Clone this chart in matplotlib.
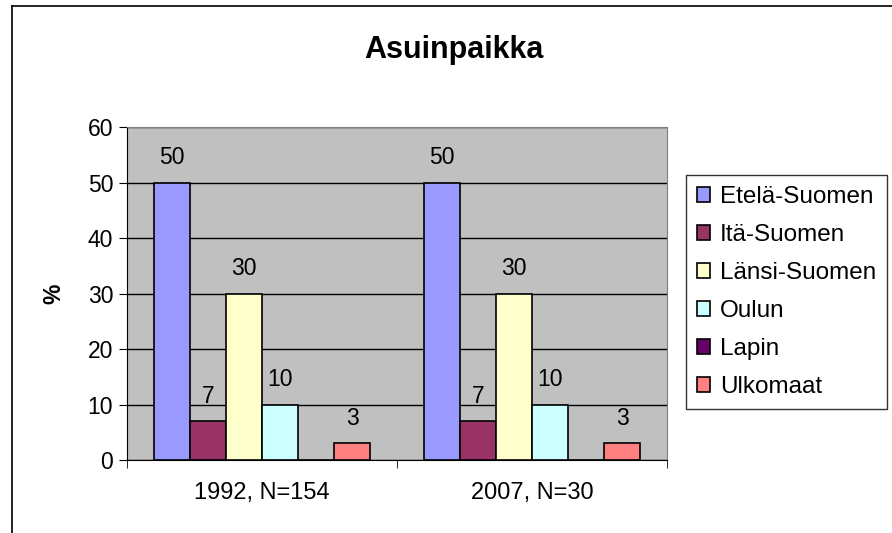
import numpy as np
import matplotlib
matplotlib.use("Agg")
from matplotlib import pyplot as plt
from matplotlib.lines import Line2D

plt.rcParams['font.family'] = ['Liberation Sans', 'DejaVu Sans']

groups = ["1992, N=154", "2007, N=30"]
regions = ["Etelä-Suomen", "Itä-Suomen", "Länsi-Suomen", "Oulun", "Lapin", "Ulkomaat"]
values_1992 = [50, 7, 30, 10, 0, 3]
values_2007 = [50, 7, 30, 10, 0, 3]
colors = ["#9999FF", "#993366", "#FFFFCC", "#CCFFFF", "#660066", "#FF8080"]

fig = plt.figure(figsize=(8.92, 5.33), dpi=100)
ax = fig.add_axes([127/892, 1-460/533, 540/892, 333/533])
ax.set_facecolor("#C0C0C0")

x = np.arange(len(groups))
w = 1/7.5
data = np.array([values_1992, values_2007])
for i, reg in enumerate(regions):
    vals = data[:, i]
    bars = ax.bar(x + (i-2.5)*w, vals, w, color=colors[i], edgecolor="black",
                  linewidth=1.2, label=reg, zorder=3)
    for b, v in zip(bars, vals):
        if v > 0:
            ax.text(b.get_x() + b.get_width()/2, v + 2.4, str(v), ha="center",
                    va="bottom", fontsize=16.5, zorder=4)

ax.set_xlim(-0.5, 1.5)
ax.set_ylim(0, 60)
ax.set_yticks(range(0, 61, 10))
ax.yaxis.grid(True, color="black", linewidth=1)
ax.set_axisbelow(True)
ax.tick_params(axis="y", direction="out", length=6, labelsize=16.5, pad=4)
ax.set_xticks(x)
ax.set_xticklabels(groups)
ax.set_xticks([-0.5, 0.5, 1.5], minor=True)
ax.tick_params(axis="x", which="major", length=0, labelsize=17, pad=16)
ax.tick_params(axis="x", which="minor", length=6, direction="out")
ax.set_ylabel("%", fontsize=16.5, fontweight="bold", labelpad=16)
for s in ["top", "right"]:
    ax.spines[s].set_color("#808080")
for s in ["left", "bottom"]:
    ax.spines[s].set_color("black")

fig.text(454/892, 1-50/533, "Asuinpaikka", ha="center", va="center",
         fontsize=22, fontweight="bold")

leg = fig.legend(loc="center left", bbox_to_anchor=(686/892, 1-292/533),
                 fontsize=17.5, frameon=True, fancybox=False, edgecolor="black",
                 handlelength=0.55, handleheight=0.55, handletextpad=0.4,
                 labelspacing=0.66, borderpad=0.45, borderaxespad=0)
leg.get_frame().set_linewidth(1)

fig.add_artist(Line2D([12/892, 12/892], [0, 1-6/533], color="black", lw=1.2))
fig.add_artist(Line2D([12/892, 1], [1-6/533, 1-6/533], color="black", lw=1.2))

fig.savefig("out.png", dpi=100)
